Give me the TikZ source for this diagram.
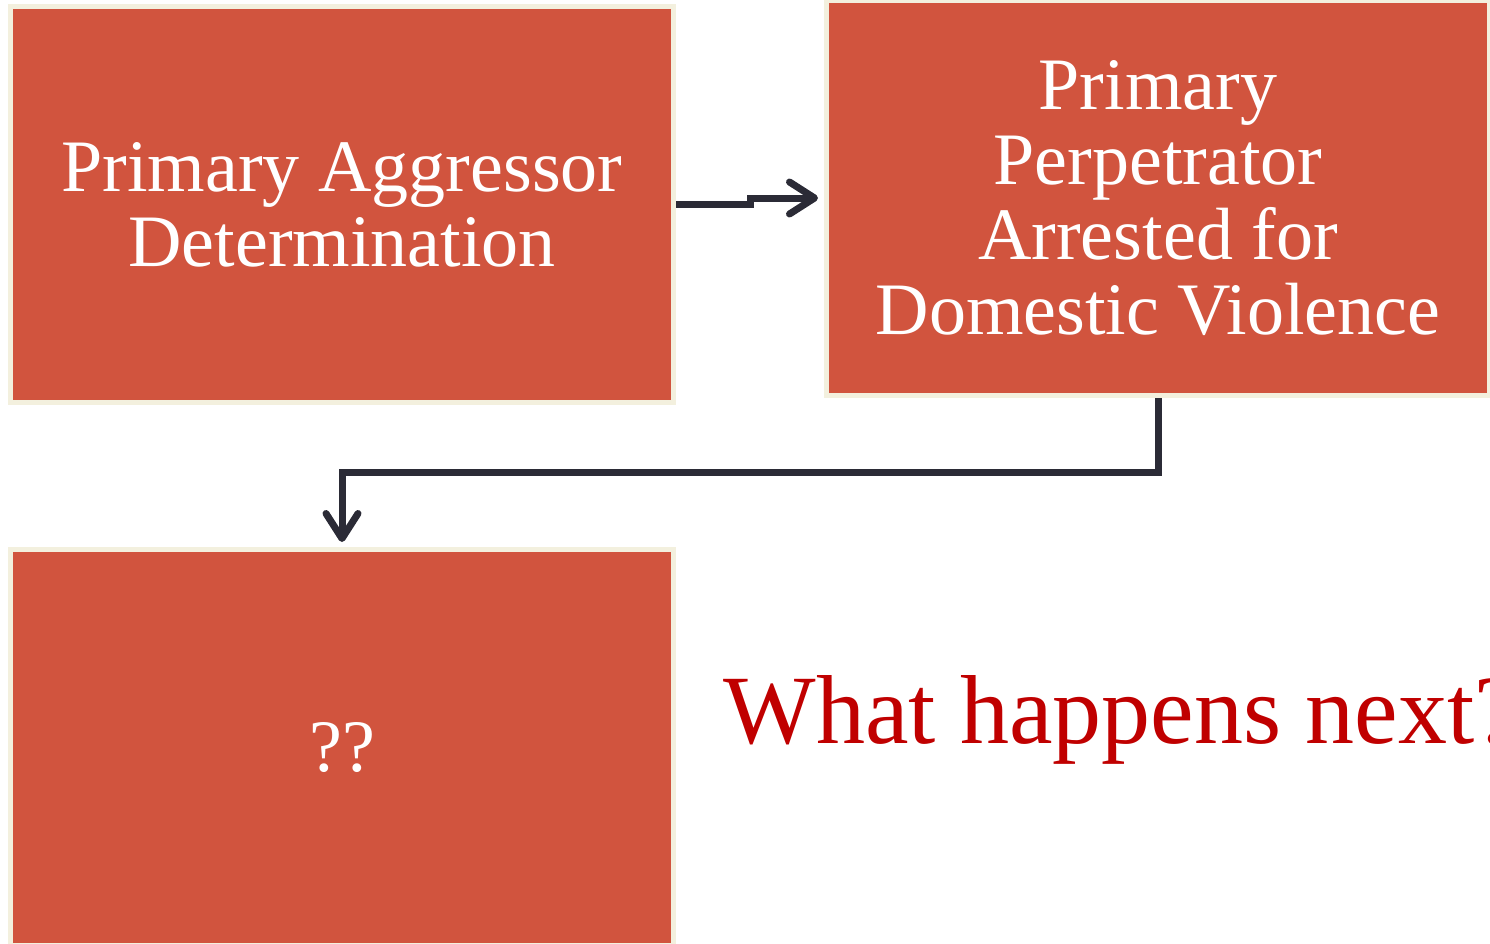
\documentclass[tikz,border=0pt]{standalone}
\usepackage{fontspec}
\setmainfont{Liberation Serif}
\usepackage{tikz}
\usepackage{tkz-euclide}
\usepackage{xcolor}
\usetikzlibrary{arrows.meta}

\definecolor{boxred}{RGB}{209,84,62}
\definecolor{boxrim}{RGB}{243,240,222}
\definecolor{linkdark}{RGB}{43,43,54}
\definecolor{askred}{RGB}{192,0,0}

\tikzset{
    stagebox/.style={rectangle, fill=boxred, draw=boxrim, line width=5pt,
        text=white, align=center, font=\fontsize{74}{75}\selectfont},
    link/.style={draw=linkdark, line width=7pt,
        -{Straight Barb[round,length=25pt,width=32pt]}}
}

\begin{document}
\begin{tikzpicture}[x=1pt,y=-1pt]
        \useasboundingbox (0,0) rectangle (1490,943);
        \clip (0,0) rectangle (1490,943);

        \node[stagebox, minimum width=663pt, minimum height=396pt] (aggressor) at (342,204.5)
            {Primary Aggressor\\Determination};
        \node[stagebox, minimum width=663pt, minimum height=395pt] (arrested) at (1158,198)
            {Primary\\Perpetrator\\Arrested for\\Domestic Violence};
        \node[stagebox, minimum width=663pt, minimum height=396pt] (unknown) at (342,747.5)
            {??};

        \tkzDefPoint(750,198){S_1}
        \tkzDefPoint(342,472){S_2}

        \draw[link, shorten >=6pt] (aggressor.east) -| (S_1) -- (arrested.west);
        \draw[link, shorten >=5pt] (arrested.south) |- (S_2) -- (unknown.north);

        \node[anchor=base west, text=askred, font=\fontsize{98}{104}\selectfont] (next) at (720,743)
            {What happens next?};
    \end{tikzpicture}
\end{document}
